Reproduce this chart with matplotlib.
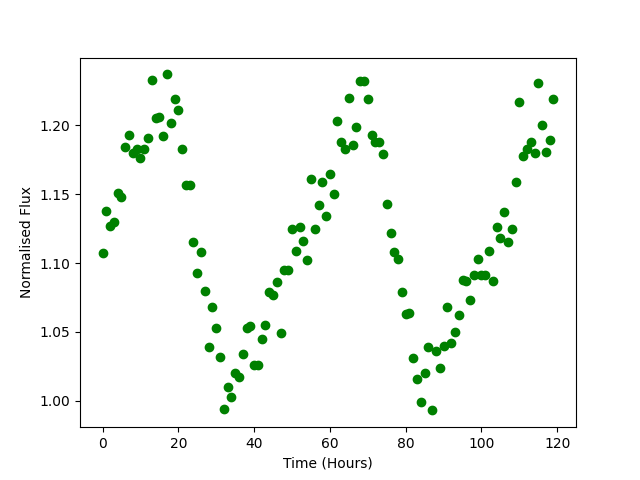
import matplotlib
matplotlib.use("Agg")
import matplotlib.pyplot as plt
import numpy as np

time_hours = list(range(120))
flux = [
    1.107, 1.138, 1.127, 1.130, 1.151, 1.148, 1.184, 1.193, 1.180, 1.183,
    1.176, 1.183, 1.191, 1.233, 1.205, 1.206, 1.192, 1.237, 1.202, 1.219,
    1.211, 1.183, 1.157, 1.157, 1.115, 1.093, 1.108, 1.080, 1.039, 1.068,
    1.053, 1.032, 0.994, 1.010, 1.003, 1.020, 1.017, 1.034, 1.053, 1.054,
    1.026, 1.026, 1.045, 1.055, 1.079, 1.077, 1.086, 1.049, 1.095, 1.095,
    1.125, 1.109, 1.126, 1.116, 1.102, 1.161, 1.125, 1.142, 1.159, 1.134,
    1.165, 1.150, 1.203, 1.188, 1.183, 1.220, 1.186, 1.199, 1.232, 1.232,
    1.219, 1.193, 1.188, 1.188, 1.179, 1.143, 1.122, 1.108, 1.103, 1.079,
    1.063, 1.064, 1.031, 1.016, 0.999, 1.020, 1.039, 0.993, 1.036, 1.024,
    1.040, 1.068, 1.042, 1.050, 1.062, 1.088, 1.087, 1.073, 1.091, 1.103,
    1.091, 1.091, 1.109, 1.087, 1.126, 1.118, 1.137, 1.115, 1.125, 1.159,
    1.217, 1.178, 1.183, 1.188, 1.180, 1.231, 1.200, 1.181, 1.189, 1.219,
]

fig, ax = plt.subplots(figsize=(6.4, 4.8), dpi=100)
ax.plot(time_hours, flux, 'go')
ax.set_xlabel("Time (Hours)")
ax.set_ylabel("Normalised Flux")
fig.savefig("out.png")
